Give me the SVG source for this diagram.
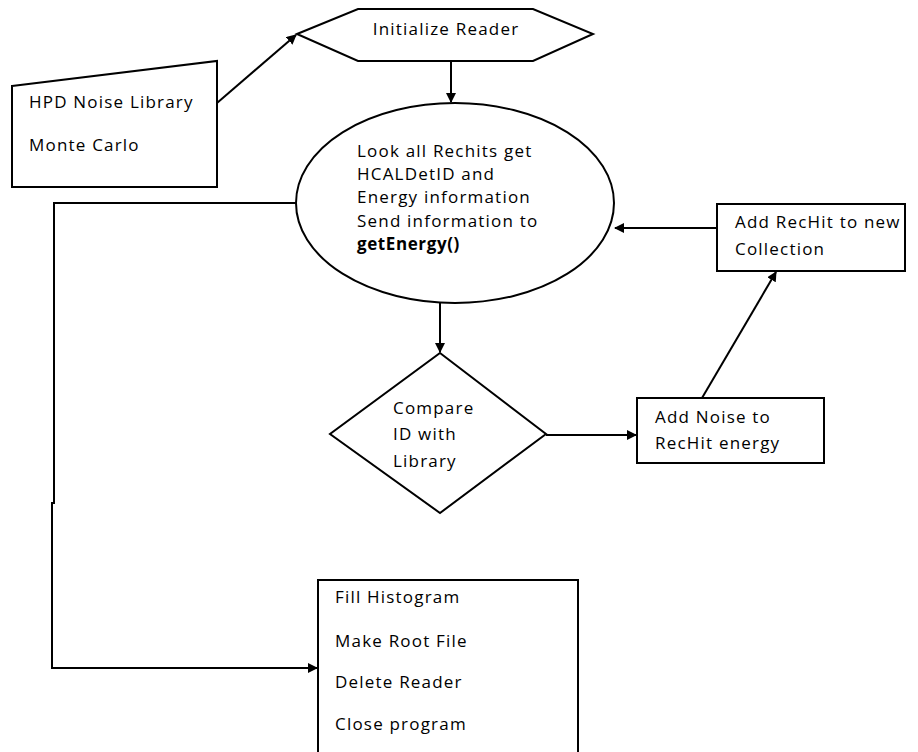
<svg xmlns="http://www.w3.org/2000/svg" width="918" height="752" viewBox="0 0 918 752">
<defs>
<style>
.s{fill:#fff;stroke:#000;stroke-width:2}
.t{font-family:"Open Sans","Noto Sans",sans-serif;font-size:17px;letter-spacing:1.2px;fill:#000}
.b{font-weight:bold;letter-spacing:0.6px}
.c{fill:none;stroke:#000;stroke-width:2}
</style>
<marker id="a" markerWidth="10" markerHeight="10" refX="9" refY="5" orient="auto" markerUnits="userSpaceOnUse" viewBox="0 0 10 10">
<path d="M0,0 L10,5 L0,10 z" fill="#000"/>
</marker>
</defs>
<rect width="918" height="752" fill="#fff"/>
<g id="hpd">
<path class="s" d="M12,86 L217,61 L217,187 L12,187 Z"/>
<text class="t" x="29" y="108">HPD Noise Library</text>
<text class="t" x="29" y="151">Monte Carlo</text>
</g>
<g id="init">
<path class="s" d="M297,34 L358,9 L533,9 L593,34 L533,61 L358,61 Z"/>
<text class="t" x="446" y="35" text-anchor="middle">Initialize Reader</text>
</g>
<g id="look">
<ellipse class="s" cx="455" cy="203" rx="159" ry="100"/>
<text class="t" x="357" y="157">Look all Rechits get</text>
<text class="t" x="357" y="180">HCALDetID and</text>
<text class="t" x="357" y="203">Energy information</text>
<text class="t" x="357" y="227">Send information to</text>
<text class="t b" x="357" y="250">getEnergy()</text>
</g>
<g id="addrechit">
<rect class="s" x="717" y="204" width="188" height="67"/>
<text class="t" x="735" y="228">Add RecHit to new</text>
<text class="t" x="735" y="255">Collection</text>
</g>
<g id="compare">
<path class="s" d="M440,353 L546,434 L440,513 L330,434 Z"/>
<text class="t" x="393" y="414">Compare</text>
<text class="t" x="393" y="440">ID with</text>
<text class="t" x="393" y="467">Library</text>
</g>
<g id="addnoise">
<rect class="s" x="637" y="398" width="187" height="65"/>
<text class="t" x="655" y="423">Add Noise to</text>
<text class="t" x="655" y="449">RecHit energy</text>
</g>
<g id="final">
<rect class="s" x="318" y="580" width="260" height="180"/>
<text class="t" x="335" y="603">Fill Histogram</text>
<text class="t" x="335" y="647">Make Root File</text>
<text class="t" x="335" y="688">Delete Reader</text>
<text class="t" x="335" y="730">Close program</text>
</g>
<g id="connectors">
<line class="c" x1="217" y1="103" x2="296" y2="35" marker-end="url(#a)"/>
<line class="c" x1="451" y1="61" x2="451" y2="102" marker-end="url(#a)"/>
<line class="c" x1="440" y1="302" x2="440" y2="352" marker-end="url(#a)"/>
<line class="c" x1="546" y1="435" x2="636" y2="435" marker-end="url(#a)"/>
<line class="c" x1="702" y1="398" x2="776" y2="272" marker-end="url(#a)"/>
<line class="c" x1="717" y1="228" x2="615" y2="228" marker-end="url(#a)"/>
<polyline class="c" points="296,203 54,203 54,503 52,503 52,668 317,668" marker-end="url(#a)"/>
</g>
</svg>
